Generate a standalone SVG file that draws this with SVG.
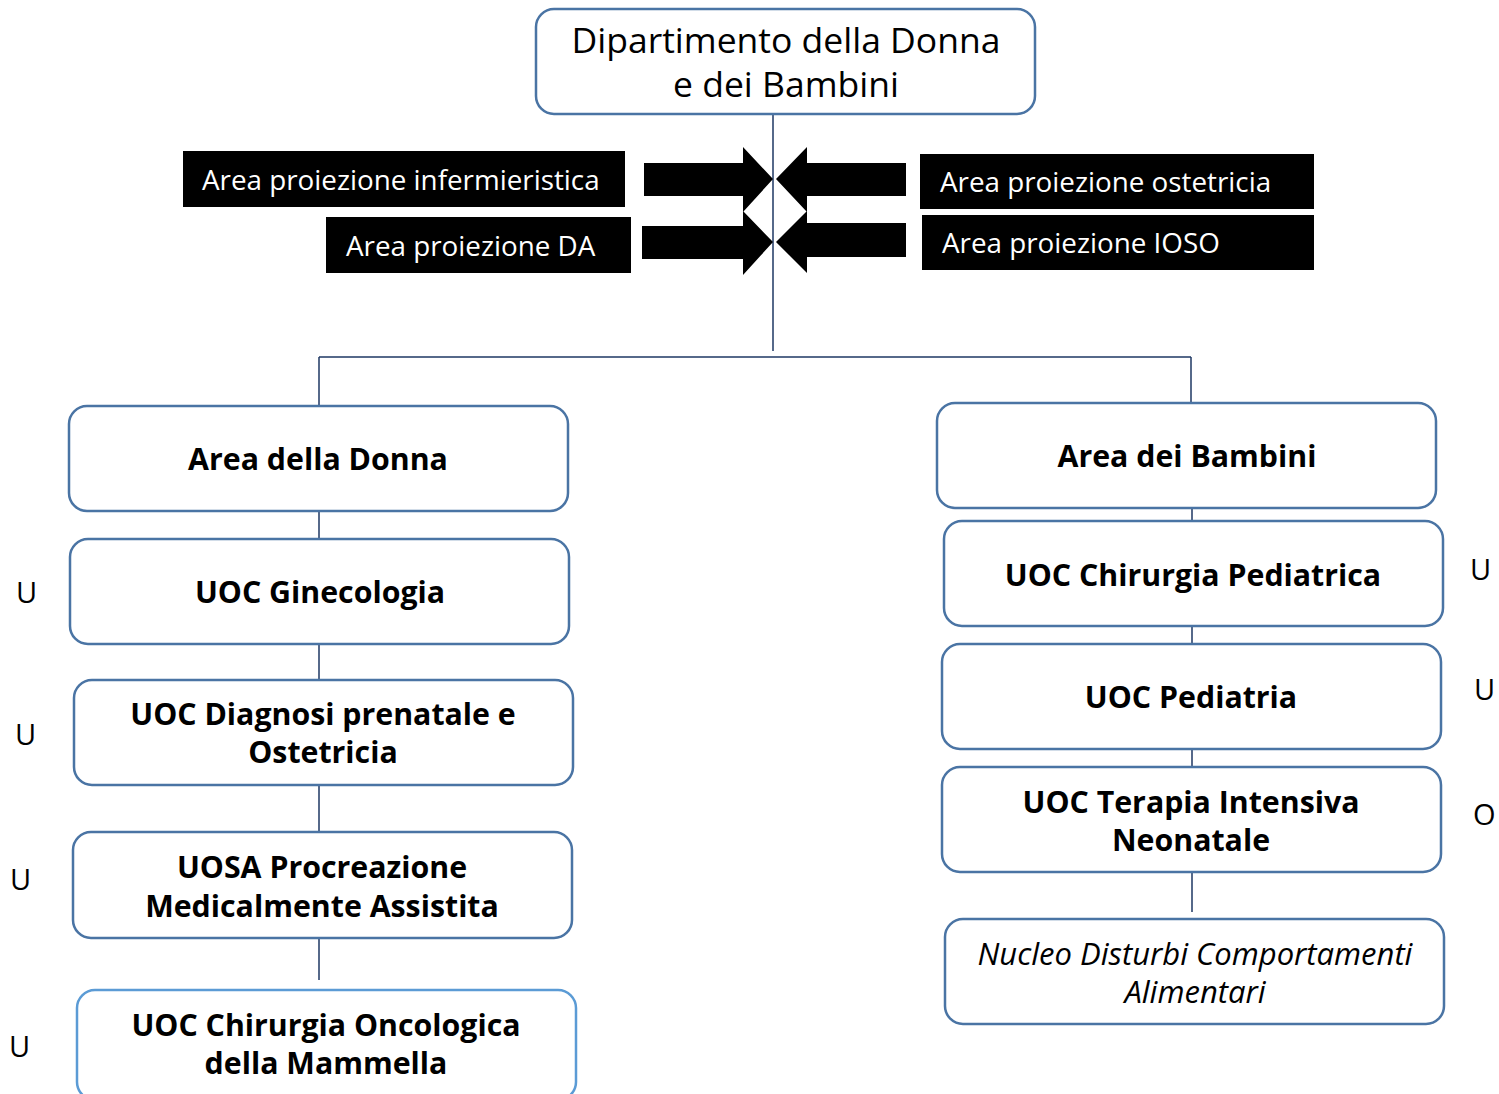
<svg xmlns="http://www.w3.org/2000/svg" width="1499" height="1094" viewBox="0 0 1499 1094">
<style>
.box{fill:#fff;stroke:#4a74a4;stroke-width:2.5}
.box2{fill:#fff;stroke:#5b9bd5;stroke-width:2.5}
.t{font-family:"Open Sans","Noto Sans",sans-serif;font-size:35.5px;fill:#000;text-anchor:middle}
.b{font-family:"Open Sans","Noto Sans",sans-serif;font-size:30.3px;font-weight:bold;fill:#000;text-anchor:middle}
.i{font-family:"Open Sans","Noto Sans",sans-serif;font-size:31px;font-style:italic;fill:#000;text-anchor:middle}
.w{font-family:"Open Sans","Noto Sans",sans-serif;font-size:27.8px;fill:#fff}
.s{font-family:"Open Sans","Noto Sans",sans-serif;font-size:29px;fill:#000}
.ln{stroke:#1f3864;stroke-width:1.5;fill:none}
</style>
<g id="connectors">
<path class="ln" d="M773 114V351M319 357H1191M319 357V406M1191 357V403"/>
<path class="ln" d="M319 511V539M319 644V680M319 785V832M319 938V980"/>
<path class="ln" d="M1192 508V521M1192 626V644M1192 749V767M1192 872V912"/>
</g>
<g id="arrows" fill="#000">
<polygon points="644,163 743,163 743,147 773,179 743,212 743,196 644,196"/>
<polygon points="906,163 807,163 807,147 776,179 807,212 807,196 906,196"/>
<polygon points="642,226 743,226 743,211 773,242 743,275 743,259 642,259"/>
<polygon points="906,223 807,223 807,211 776,242 807,273 807,257 906,257"/>
</g>
<g id="dept"><rect class="box" x="536" y="9" width="499" height="105" rx="18"/>
<text class="t" x="786" y="53">Dipartimento della Donna</text><text class="t" x="786" y="97">e dei Bambini</text></g>
<g id="lbl-inf"><rect x="183" y="151" width="442" height="56" fill="#000"/><text class="w" x="202" y="190">Area proiezione infermieristica</text></g>
<g id="lbl-da"><rect x="326" y="217" width="305" height="56" fill="#000"/><text class="w" x="346" y="256">Area proiezione DA</text></g>
<g id="lbl-ost"><rect x="920" y="154" width="394" height="55" fill="#000"/><text class="w" x="940" y="192">Area proiezione ostetricia</text></g>
<g id="lbl-ioso"><rect x="922" y="215" width="392" height="55" fill="#000"/><text class="w" x="942" y="253">Area proiezione IOSO</text></g>
<g id="area-donna"><rect class="box" x="69" y="406" width="499" height="105" rx="18"/><text class="b" x="318" y="470">Area della Donna</text></g>
<g id="ginecologia"><rect class="box" x="70" y="539" width="499" height="105" rx="18"/><text class="b" x="320" y="603">UOC Ginecologia</text></g>
<g id="diagnosi"><rect class="box" x="74" y="680" width="499" height="105" rx="18"/><text class="b" x="323" y="725">UOC Diagnosi prenatale e</text><text class="b" x="323" y="763">Ostetricia</text></g>
<g id="uosa"><rect class="box" x="73" y="832" width="499" height="106" rx="18"/><text class="b" x="322" y="878">UOSA Procreazione</text><text class="b" x="322" y="917">Medicalmente Assistita</text></g>
<g id="mammella"><rect class="box2" x="77" y="990" width="499" height="110" rx="18"/><text class="b" x="326" y="1036">UOC Chirurgia Oncologica</text><text class="b" x="326" y="1074">della Mammella</text></g>
<g id="area-bambini"><rect class="box" x="937" y="403" width="499" height="105" rx="18"/><text class="b" x="1187" y="467">Area dei Bambini</text></g>
<g id="chir-ped"><rect class="box" x="944" y="521" width="499" height="105" rx="18"/><text class="b" x="1193" y="586">UOC Chirurgia Pediatrica</text></g>
<g id="pediatria"><rect class="box" x="942" y="644" width="499" height="105" rx="18"/><text class="b" x="1191" y="708">UOC Pediatria</text></g>
<g id="tin"><rect class="box" x="942" y="767" width="499" height="105" rx="18"/><text class="b" x="1191" y="813">UOC Terapia Intensiva</text><text class="b" x="1191" y="851">Neonatale</text></g>
<g id="nucleo"><rect class="box" x="945" y="919" width="499" height="105" rx="18"/><text class="i" x="1195" y="965">Nucleo Disturbi Comportamenti</text><text class="i" x="1195" y="1003">Alimentari</text></g>
<g id="side-labels">
<text class="s" x="16" y="603">U</text><text class="s" x="15" y="745">U</text><text class="s" x="10" y="890">U</text><text class="s" x="9" y="1057">U</text>
<text class="s" x="1470" y="580">U</text><text class="s" x="1474" y="700">U</text><text class="s" x="1473" y="825">O</text>
</g>
</svg>
